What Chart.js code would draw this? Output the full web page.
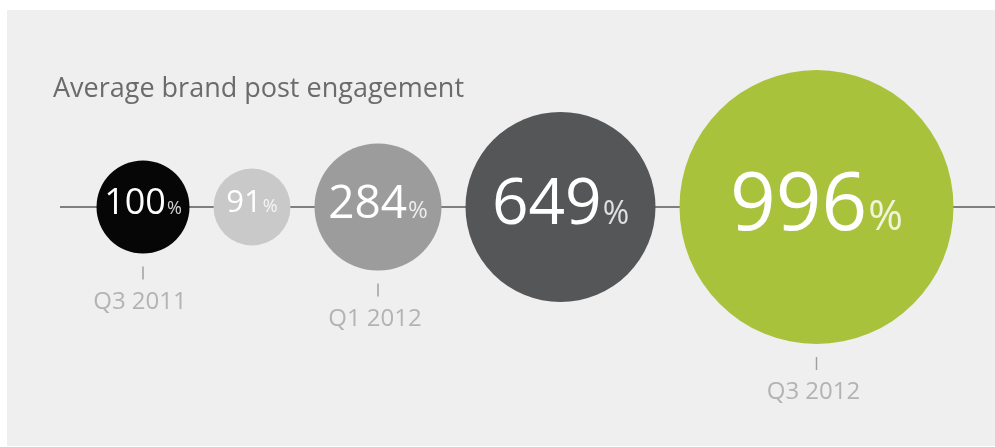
<!DOCTYPE html>
<html>
<head>
<meta charset="utf-8">
<script src="https://cdn.jsdelivr.net/npm/chart.js@4"></script>
<style>
  html, body { margin: 0; padding: 0; background: #fff; }
  #wrap { position: relative; width: 995px; height: 447px; }
</style>
</head>
<body>
<div id="wrap"><canvas id="engChart"></canvas></div>
<script>
// data
const periods = ["Q3 2011", "", "Q1 2012", "", "Q3 2012"];
const engagement = [100, 91, 284, 649, 996];   // % of Q3 2011
const bubbleR = [46.5, 38.5, 63.5, 95, 137];   // bubble sizes as drawn
const colors = ["#060606", "#c9c9c9", "#9c9c9d", "#555657", "#a9c23b"];

const title = "Average brand post engagement";

// bubbles sit side by side on the line with a small gap
const firstX = 143;
const gap = 24;
const xs = [];
bubbleR.forEach((r, i) => {
  if (i === 0) xs.push(firstX);
  else xs.push(xs[i - 1] + bubbleR[i - 1] + gap + r);
});

const points = engagement.map((v, i) => ({ x: xs[i], y: 0, r: bubbleR[i] }));

// text styles
const numSize = [36, 31, 46, 64, 80];
const pctSize = [18, 18, 24, 32, 42];
const FONT = "'Open Sans', sans-serif";

const decor = {
  id: "decor",
  beforeDraw(chart) {
    const ctx = chart.ctx;
    ctx.save();
    ctx.fillStyle = "#efefef";
    ctx.fillRect(7, 10, chart.width - 7, 436);

    ctx.fillStyle = "#6b6b6b";
    ctx.font = "27px " + FONT;
    ctx.textBaseline = "alphabetic";
    ctx.fillText(title, 53, 97);
    ctx.restore();
  },
  beforeDatasetsDraw(chart) {
    const ctx = chart.ctx;
    const y0 = chart.scales.y.getPixelForValue(0);
    ctx.save();
    ctx.strokeStyle = "#7f7f7f";
    ctx.lineWidth = 2;
    ctx.beginPath();
    ctx.moveTo(60, y0);
    ctx.lineTo(chart.width, y0);
    ctx.stroke();
    ctx.restore();
  },
  afterDatasetsDraw(chart) {
    const ctx = chart.ctx;
    const meta = chart.getDatasetMeta(0);
    ctx.save();
    meta.data.forEach((el, i) => {
      const cx = el.x, cy = el.y, r = bubbleR[i];

      // value inside the bubble
      const num = String(engagement[i]);
      ctx.font = numSize[i] + "px " + FONT;
      const wNum = ctx.measureText(num).width;
      ctx.font = pctSize[i] + "px " + FONT;
      const wPct = ctx.measureText("%").width;
      const x0 = cx - (wNum + wPct + 1) / 2;
      const base = cy - 6 + numSize[i] * 0.36;
      ctx.textBaseline = "alphabetic";
      ctx.textAlign = "left";
      ctx.fillStyle = "#ffffff";
      ctx.font = numSize[i] + "px " + FONT;
      ctx.fillText(num, x0, base);
      ctx.fillStyle = "rgba(255,255,255,0.82)";
      ctx.font = pctSize[i] + "px " + FONT;
      ctx.fillText("%", x0 + wNum + 1, base);

      // period label under some bubbles
      if (periods[i]) {
        const bottom = cy + r;
        ctx.strokeStyle = "#a0a0a0";
        ctx.lineWidth = 1.5;
        ctx.beginPath();
        ctx.moveTo(cx, bottom + 13);
        ctx.lineTo(cx, bottom + 26);
        ctx.stroke();
        ctx.fillStyle = "#b3b3b3";
        ctx.font = "24px " + FONT;
        ctx.textAlign = "center";
        ctx.fillText(periods[i], cx - 3, bottom + 55);
      }
    });
    ctx.restore();
  }
};

new Chart(document.getElementById("engChart"), {
  type: "bubble",
  data: {
    datasets: [{
      data: points,
      backgroundColor: colors,
      borderWidth: 0,
      hoverBorderWidth: 0,
      clip: false
    }]
  },
  options: {
    responsive: true,
    maintainAspectRatio: false,
    animation: false,
    layout: { padding: 0, autoPadding: false },
    plugins: {
      legend: { display: false },
      tooltip: { enabled: false },
      title: { display: false }
    },
    events: [],
    scales: {
      x: { type: "linear", min: 0, max: 995, display: false },
      y: { type: "linear", min: -240, max: 207, display: false }
    }
  },
  plugins: [decor]
});
</script>
</body>
</html>
